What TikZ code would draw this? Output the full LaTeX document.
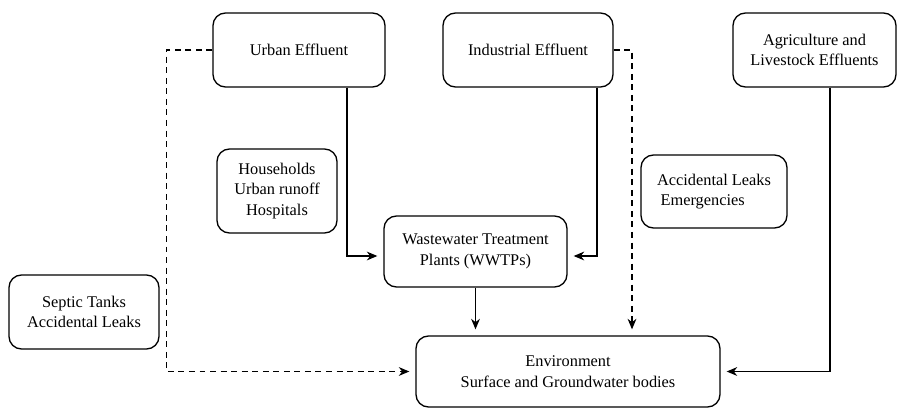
\documentclass[tikz,border=0pt]{standalone}
\usepackage{fontspec}
\setmainfont{Liberation Serif}
\usepackage{tikz}
\usetikzlibrary{calc, positioning, arrows.meta}
\tikzset{
    effluents/.style={
        font=\fontsize{9.3}{11.6}\selectfont,
        >={Stealth[length=6pt,width=5pt]},
        box/.style={draw, rectangle, rounded corners=0.25cm, line width=0.75pt, align=center, inner sep=0pt},
        arrow/.style={line width=0.75pt, ->, shorten >=0.12cm},
        dasharrow/.style={arrow, dash pattern=on 3.4pt off 2.6pt}
    }
}

\begin{document}
\begin{tikzpicture}[effluents]
        \useasboundingbox (0, 0) rectangle (17.96, 8.16);

        % Sources
        \node[box, minimum width=3.44cm, minimum height=1.48cm] (urban) at (5.98, 7.16) {Urban Effluent};
        \node[box, minimum width=3.40cm, minimum height=1.48cm] (industrial) at (10.56, 7.16) {Industrial Effluent};
        \node[box, minimum width=3.26cm, minimum height=1.48cm] (agri) at (16.29, 7.16) {Agriculture and\\Livestock Effluents};

        % Side notes
        \node[box, minimum width=2.40cm, minimum height=1.68cm] (households) at (5.54, 4.34) {Households\\Urban runoff\\Hospitals};
        \node[box, minimum width=2.92cm, minimum height=1.46cm, align=left] (leaks) at (14.28, 4.33) {Accidental Leaks\\\hspace{2pt}Emergencies};
        \node[box, minimum width=3.00cm, minimum height=1.48cm] (septic) at (1.68, 1.92) {Septic Tanks\\Accidental Leaks};

        % Treatment and receiving environment
        \node[box, minimum width=3.66cm, minimum height=1.42cm] (wwtp) at (9.51, 3.13) {Wastewater Treatment\\Plants (WWTPs)};
        \node[box, minimum width=6.08cm, minimum height=1.42cm] (env) at (11.36, 0.73) {Environment\\Surface and Groundwater bodies};

        % Arrows
        \draw[arrow] ([xshift=0.96cm]urban.south) |- ([yshift=-0.09cm]wwtp.west);
        \draw[arrow] ([xshift=1.38cm]industrial.south) |- ([yshift=-0.09cm]wwtp.east);
        \draw[arrow] (wwtp.south) -- (wwtp.south |- env.north);
        \draw[arrow] ([xshift=0.31cm]agri.south) |- (env.east);

        \draw[dasharrow] (urban.west) -- ++(-0.92, 0) |- (env.west);
        \draw[dasharrow] (industrial.east) -| ([xshift=1.28cm]env.north);

    \end{tikzpicture}
\end{document}
